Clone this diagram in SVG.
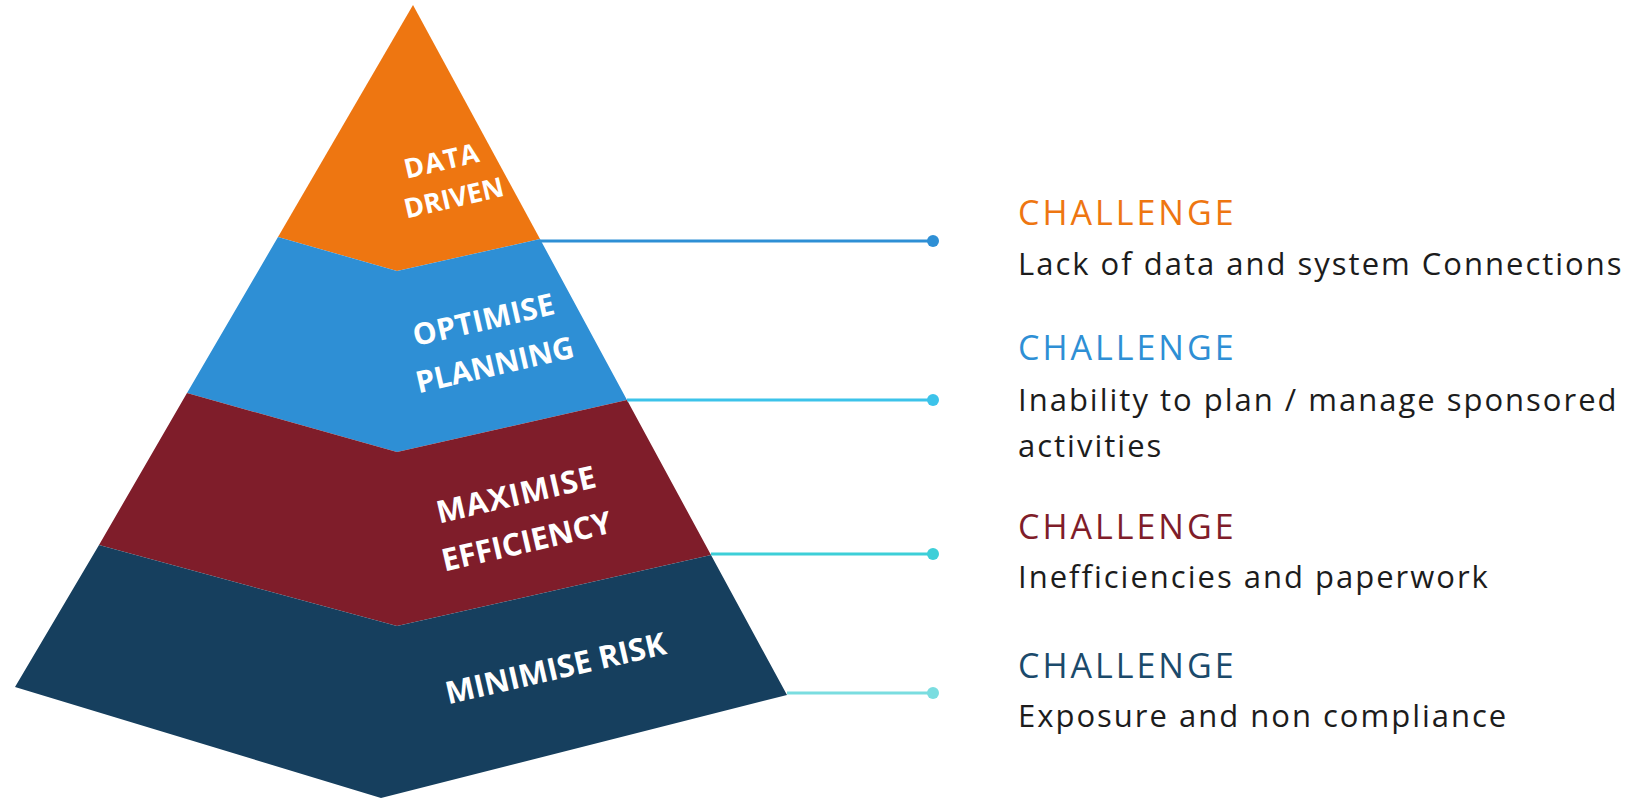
<svg xmlns="http://www.w3.org/2000/svg" width="1629" height="800" viewBox="0 0 1629 800">
<style>
.lbl{font-family:"Open Sans","Noto Sans",sans-serif;font-weight:700;fill:#ffffff;text-anchor:middle}
.ch{font-family:"Open Sans","Noto Sans",sans-serif;font-size:34px;font-weight:500;letter-spacing:3px}
.body{font-family:"Open Sans","Noto Sans",sans-serif;font-size:31px;font-weight:500;letter-spacing:2px;fill:#1c1c1c}
.conn{stroke-width:3;fill:none}
</style>
<rect width="1629" height="800" fill="#ffffff"/>
<g id="tier-data-driven">
<polygon points="413,5 540,239 397,271 278,237" fill="#EE7611"/>
<text class="lbl" transform="translate(444,170) rotate(-13)" font-size="27" letter-spacing="1">DATA</text>
<text class="lbl" transform="translate(456,207) rotate(-13)" font-size="27">DRIVEN</text>
</g>
<g id="tier-optimise-planning">
<polygon points="278,237 397,271 540,239 627,400 397,452 187,393" fill="#2E8FD5"/>
<text class="lbl" transform="translate(486,330) rotate(-13)" font-size="30" letter-spacing="0.4">OPTIMISE</text>
<text class="lbl" transform="translate(497,375) rotate(-13)" font-size="30">PLANNING</text>
</g>
<g id="tier-maximise-efficiency">
<polygon points="187,393 397,452 627,400 711,555 397,626 99,545" fill="#7F1D2A"/>
<text class="lbl" transform="translate(519,505) rotate(-13)" font-size="31" letter-spacing="1">MAXIMISE</text>
<text class="lbl" transform="translate(529,552) rotate(-13)" font-size="31">EFFICIENCY</text>
</g>
<g id="tier-minimise-risk">
<polygon points="99,545 397,626 711,555 787,695 381,798 15,687" fill="#163F5E"/>
<text class="lbl" transform="translate(558,679) rotate(-13)" font-size="31">MINIMISE RISK</text>
</g>
<g id="connectors">
<line class="conn" x1="540" y1="241" x2="933" y2="241" stroke="#2E8FD5"/>
<circle cx="933" cy="241" r="6" fill="#2E8FD5"/>
<line class="conn" x1="627" y1="400" x2="933" y2="400" stroke="#3CC3EA"/>
<circle cx="933" cy="400" r="6" fill="#3CC3EA"/>
<line class="conn" x1="711" y1="554" x2="933" y2="554" stroke="#3DCFD8"/>
<circle cx="933" cy="554" r="6" fill="#3DCFD8"/>
<line class="conn" x1="787" y1="693" x2="933" y2="693" stroke="#7ADDE0"/>
<circle cx="933" cy="693" r="6" fill="#7ADDE0"/>
</g>
<g id="challenge-1">
<text class="ch" x="1018" y="225" fill="#EE7611">CHALLENGE</text>
<text class="body" x="1018" y="275">Lack of data and system Connections</text>
</g>
<g id="challenge-2">
<text class="ch" x="1018" y="360" fill="#2E8FD5">CHALLENGE</text>
<text class="body" x="1018" y="411">Inability to plan / manage sponsored</text>
<text class="body" x="1018" y="457">activities</text>
</g>
<g id="challenge-3">
<text class="ch" x="1018" y="539" fill="#7F1D2A">CHALLENGE</text>
<text class="body" x="1018" y="588">Inefficiencies and paperwork</text>
</g>
<g id="challenge-4">
<text class="ch" x="1018" y="678" fill="#1B4A6B">CHALLENGE</text>
<text class="body" x="1018" y="727">Exposure and non compliance</text>
</g>
</svg>
